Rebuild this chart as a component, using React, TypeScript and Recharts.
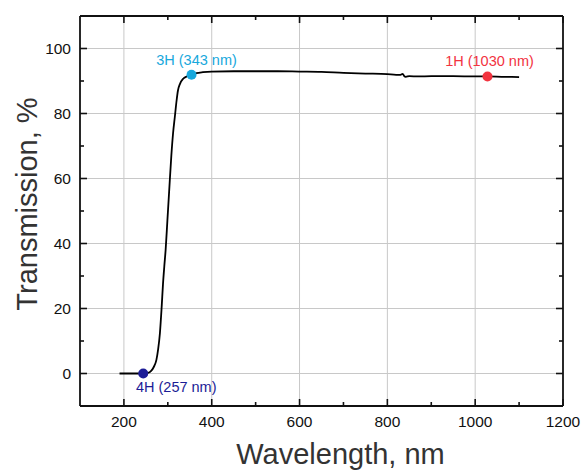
import React from "react";
import {
  ComposedChart,
  Line,
  Scatter,
  XAxis,
  YAxis,
  ReferenceLine,
  Label,
} from "recharts";

// measured transmission curve
const wavelength = [
  190, 200, 220, 240, 255, 262, 268, 274, 278, 282, 286, 289, 292, 295, 299,
  303, 308, 312, 316, 320, 323, 328, 335, 343, 354, 365, 380, 400, 450, 500,
  550, 600, 650, 700, 750, 800, 820, 830, 835, 838, 842, 850, 870, 900, 950,
  1000, 1028, 1060, 1100,
];
const transmission = [
  0, 0, 0, 0, 0.2, 0.8, 2.0, 4.2, 7.5, 12.4, 20.5, 27.5, 33, 38, 47, 56, 67,
  74, 79, 84, 87, 89.2, 90.7, 91.4, 91.9, 92.4, 92.7, 92.9, 93.0, 93.0, 93.0,
  92.9, 92.8, 92.5, 92.3, 92.1, 91.9, 91.9, 92.2, 91.6, 91.3, 91.5, 91.4,
  91.5, 91.5, 91.4, 91.4, 91.3, 91.2,
];

// harmonic markers
const harmonics = [
  { name: "4H (257 nm)", w: 244, t: 0, color: "#1c1c96", dx: 33, dy: 18 },
  { name: "3H (343 nm)", w: 354, t: 91.9, color: "#18a8dc", dx: 5, dy: -10 },
  { name: "1H (1030 nm)", w: 1028, t: 91.4, color: "#f2333f", dx: 2, dy: -10 },
];

const xTicks = [200, 300, 400, 500, 600, 700, 800, 900, 1000, 1100, 1200];
const xMajor = [200, 400, 600, 800, 1000, 1200];
const xGrid = [200, 400, 600, 800, 1000];
const yTicks = [0, 10, 20, 30, 40, 50, 60, 70, 80, 90, 100];
const yMajor = [0, 20, 40, 60, 80, 100];
const yGrid = [0, 20, 40, 60, 80, 100];

const curve = wavelength.map((w, i) => ({ w, t: transmission[i] }));
// corners of the frame, so the top and right axes have a series of their own
const frame = [
  { w: 100, t: -10 },
  { w: 1200, t: 110 },
];

const FONT = "'Liberation Sans', Arial, sans-serif";
const AXIS = "#111";

const BottomTick = ({ x, y, payload }: any) => {
  const major = xMajor.includes(payload.value);
  return (
    <g>
      <line x1={x} x2={x} y1={y} y2={y - (major ? 7 : 4)} stroke={AXIS} strokeWidth={1.6} />
      {major && (
        <text x={x} y={y + 21} textAnchor="middle" fontSize={15.5} fontFamily={FONT} fill="#111">
          {payload.value}
        </text>
      )}
    </g>
  );
};

const TopTick = ({ x, y, payload }: any) => {
  const major = xMajor.includes(payload.value);
  return (
    <g>
      <line x1={x} x2={x} y1={y} y2={y + (major ? 7 : 4)} stroke={AXIS} strokeWidth={1.6} />
    </g>
  );
};

const LeftTick = ({ x, y, payload }: any) => {
  const major = yMajor.includes(payload.value);
  return (
    <g>
      <line x1={x} x2={x + (major ? 7 : 4)} y1={y} y2={y} stroke={AXIS} strokeWidth={1.6} />
      {major && (
        <text x={x - 9} y={y + 5.5} textAnchor="end" fontSize={15.5} fontFamily={FONT} fill="#111">
          {payload.value}
        </text>
      )}
    </g>
  );
};

const RightTick = ({ x, y, payload }: any) => {
  const major = yMajor.includes(payload.value);
  return (
    <g>
      <line x1={x} x2={x - (major ? 7 : 4)} y1={y} y2={y} stroke={AXIS} strokeWidth={1.6} />
    </g>
  );
};

const XTitle = ({ viewBox }: any) => (
  <text
    x={viewBox.x + viewBox.width / 2 + 19}
    y={viewBox.y + 58}
    textAnchor="middle"
    fontSize={29}
    fontFamily={FONT}
    fill="#333"
  >
    Wavelength, nm
  </text>
);

const YTitle = ({ viewBox }: any) => {
  const cx = viewBox.x + 36.5;
  const cy = viewBox.y + viewBox.height / 2 - 7;
  return (
    <text
      x={cx}
      y={cy}
      transform={`rotate(-90 ${cx} ${cy})`}
      textAnchor="middle"
      fontSize={29}
      fontFamily={FONT}
      fill="#333"
    >
      Transmission, %
    </text>
  );
};

const markerShape = (h: (typeof harmonics)[number]) => (p: any) =>
  (
    <g>
      <circle cx={p.cx} cy={p.cy} r={5} fill={h.color} />
      <text
        x={p.cx + h.dx}
        y={p.cy + h.dy}
        textAnchor="middle"
        fontSize={14.5}
        fontFamily={FONT}
        fill={h.color}
      >
        {h.name}
      </text>
    </g>
  );

export default function App() {
  return (
    <div style={{ position: "absolute", left: 0, top: 0 }}>
      <ComposedChart width={582} height={470} margin={{ top: 15, right: 18, bottom: 0, left: 0 }}>
        <XAxis
          xAxisId="b"
          dataKey="w"
          type="number"
          domain={[100, 1200]}
          ticks={xTicks}
          interval={0}
          tickSize={0}
          tickMargin={0}
          tickLine={false}
          height={64}
          tick={<BottomTick />}
          axisLine={{ stroke: AXIS, strokeWidth: 1.8 }}
          allowDataOverflow
        >
          <Label content={<XTitle />} />
        </XAxis>
        <XAxis
          xAxisId="t"
          dataKey="w"
          orientation="top"
          type="number"
          domain={[100, 1200]}
          ticks={xTicks}
          interval={0}
          tickSize={0}
          tickMargin={0}
          tickLine={false}
          height={1}
          tick={<TopTick />}
          axisLine={{ stroke: AXIS, strokeWidth: 1.8 }}
          allowDataOverflow
        />
        <YAxis
          yAxisId="l"
          type="number"
          domain={[-10, 110]}
          ticks={yTicks}
          interval={0}
          tickSize={0}
          tickMargin={0}
          tickLine={false}
          width={80}
          tick={<LeftTick />}
          axisLine={{ stroke: AXIS, strokeWidth: 1.8 }}
          allowDataOverflow
        >
          <Label content={<YTitle />} />
        </YAxis>
        <YAxis
          yAxisId="r"
          orientation="right"
          type="number"
          domain={[-10, 110]}
          ticks={yTicks}
          interval={0}
          tickSize={0}
          tickMargin={0}
          tickLine={false}
          width={1}
          tick={<RightTick />}
          axisLine={{ stroke: AXIS, strokeWidth: 1.8 }}
          allowDataOverflow
        />
        {xGrid.map((v) => (
          <ReferenceLine
            key={`gx${v}`}
            x={v}
            xAxisId="b"
            yAxisId="l"
            stroke="#c8c8c8"
            strokeWidth={1}
            ifOverflow="extendDomain"
          />
        ))}
        {yGrid.map((v) => (
          <ReferenceLine
            key={`gy${v}`}
            y={v}
            xAxisId="b"
            yAxisId="l"
            stroke="#c8c8c8"
            strokeWidth={1}
            ifOverflow="extendDomain"
          />
        ))}
        <Line
          data={frame}
          xAxisId="t"
          yAxisId="r"
          dataKey="t"
          stroke="none"
          dot={false}
          activeDot={false}
          isAnimationActive={false}
        />
        <Line
          data={curve}
          xAxisId="b"
          yAxisId="l"
          dataKey="t"
          type="monotone"
          stroke="#000"
          strokeWidth={1.8}
          dot={false}
          isAnimationActive={false}
        />
        {harmonics.map((h) => (
          <Scatter
            key={h.name}
            data={[{ w: h.w, t: h.t }]}
            xAxisId="b"
            yAxisId="l"
            dataKey="t"
            shape={markerShape(h)}
            isAnimationActive={false}
          />
        ))}
      </ComposedChart>
    </div>
  );
}
